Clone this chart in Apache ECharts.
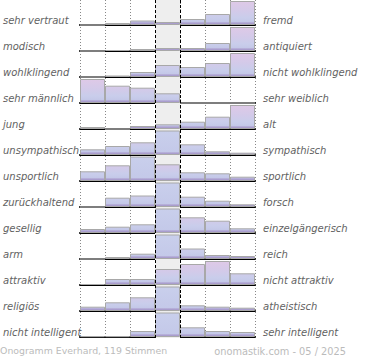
<!DOCTYPE html>
<html>
<head>
<meta charset="utf-8">
<script src="https://cdn.jsdelivr.net/npm/echarts@6/dist/echarts.min.js"></script>
<style>html,body{margin:0;padding:0;background:#fff}#c{width:370px;height:360px}</style>
</head>
<body>
<div id="c"></div>
<script>
const scaleSteps = ['1', '2', '3', '4', '5', '6', '7'];
const leftLabels = ['sehr vertraut', 'modisch', 'wohlklingend', 'sehr männlich', 'jung', 'unsympathisch', 'unsportlich', 'zurückhaltend', 'gesellig', 'arm', 'attraktiv', 'religiös', 'nicht intelligent'];
const rightLabels = ['fremd', 'antiquiert', 'nicht wohlklingend', 'sehr weiblich', 'alt', 'sympathisch', 'sportlich', 'forsch', 'einzelgängerisch', 'reich', 'nicht attraktiv', 'atheistisch', 'sehr intelligent'];
const footerLeft = 'Onogramm Everhard, 119 Stimmen';
const footerRight = 'onomastik.com - 05 / 2025';

const r01 = [0, 2, 4.5, 3, 6, 11, 24];
const r02 = [0, 1, 2, 3, 3, 8, 24];
const r03 = [0, 1.5, 5, 12, 10, 14, 24];
const r04 = [24, 17.3, 15.3, 9.7, 0, 0, 0];
const r05 = [2, 0, 3, 4.7, 7.3, 12.3, 24];
const r06 = [5.7, 9, 12.7, 30, 10.7, 3.7, 2.3];
const r07 = [9.7, 15.7, 28, 16.7, 8.7, 7.7, 4.3];
const r08 = [0, 9.3, 11.5, 32, 10.3, 6.3, 2.7];
const r09 = [4, 6.3, 8.7, 32, 15.7, 12.3, 4.7];
const r10 = [0, 2, 5.3, 30, 10.5, 4, 3];
const r11 = [1, 6, 6, 16, 21, 24, 11.7];
const r12 = [4.3, 8.7, 13.7, 34, 5.7, 4.3, 3.3];
const r13 = [0.8, 0.8, 6, 34, 9.7, 6, 5];
const rows = [r01, r02, r03, r04, r05, r06, r07, r08, r09, r10, r11, r12, r13];

const ROW_MAX = 24;
const ROW_STEP = 26;
const FONT = 'DejaVu Sans';

function grad(i, pink) {
  const y0 = ROW_STEP * i + 1, y1 = ROW_STEP * i + 25;
  const stops = pink ? [
    {offset: 0, color: '#dfc9e7'},
    {offset: 0.45, color: '#d2cae9'},
    {offset: 0.7, color: '#c9cdeb'},
    {offset: 0.86, color: '#c4c8e8'},
    {offset: 0.91, color: '#b0a5d2'},
    {offset: 1, color: '#9a8cc4'}
  ] : [
    {offset: 0, color: '#c9cfec'},
    {offset: 0.86, color: '#c4c9e9'},
    {offset: 0.91, color: '#b0a5d2'},
    {offset: 1, color: '#9a8cc4'}
  ];
  return {type: 'linear', x: 0, y: y0, x2: 0, y2: y1, global: true, colorStops: stops};
}

const grid = [], xAxis = [], yAxis = [], series = [];
rows.forEach((vals, i) => {
  grid.push({left: 80, width: 175, top: ROW_STEP * i + 1, height: 24});
  xAxis.push({gridIndex: i, type: 'category', data: scaleSteps,
    axisLine: {lineStyle: {color: '#000', width: 2}}, axisTick: {show: false},
    axisLabel: {show: false}, splitLine: {show: false}});
  yAxis.push({gridIndex: i, type: 'value', min: 0, max: ROW_MAX, show: false});
  series.push({type: 'bar', xAxisIndex: i, yAxisIndex: i, z: 2, silent: true,
    barCategoryGap: '0%',
    itemStyle: {borderColor: '#a8a8a8', borderWidth: 1},
    data: vals.map(v => ({value: v, itemStyle: {color: grad(i, v <= ROW_MAX)}}))});
});
// overlay grid (13)
grid.push({left: 80, width: 175, top: 0, height: 338});
xAxis.push({gridIndex: 13, type: 'value', min: 0, max: 7, interval: 1,
  axisLine: {show: false}, axisTick: {show: false}, axisLabel: {show: false},
  splitLine: {show: true, lineStyle: {color: '#888', type: [1, 2], width: 1}}});
yAxis.push({gridIndex: 13, type: 'value', min: 0, max: 1, show: false});
series.push({type: 'line', xAxisIndex: 13, yAxisIndex: 13, data: [], z: 1, silent: true,
  markArea: {silent: true, itemStyle: {color: '#eeeeee'}, data: [[{xAxis: 3}, {xAxis: 4}]]}});
series.push({type: 'line', xAxisIndex: 13, yAxisIndex: 13, data: [], z: 10, silent: true,
  markLine: {symbol: 'none', silent: true, label: {show: false}, animation: false,
    lineStyle: {color: '#000', type: [3, 2], width: 1}, data: [{xAxis: 3}, {xAxis: 4}]}});
// label grid (14)
grid.push({left: 80, width: 175, top: 7, height: 338});
xAxis.push({gridIndex: 14, type: 'value', show: false});
const lab = {color: '#626262', fontStyle: 'italic', fontSize: 10, fontFamily: FONT};
yAxis.push({gridIndex: 14, type: 'category', data: leftLabels, inverse: true, position: 'left',
  axisLine: {show: false}, axisTick: {show: false}, splitLine: {show: false},
  axisLabel: Object.assign({align: 'left', margin: 80}, lab)});
yAxis.push({gridIndex: 14, type: 'category', data: rightLabels, inverse: true, position: 'right',
  axisLine: {show: false}, axisTick: {show: false}, splitLine: {show: false},
  axisLabel: Object.assign({align: 'left', margin: 8}, lab)});
series.push({type: 'line', xAxisIndex: 14, yAxisIndex: 14, data: [], silent: true});

const chart = echarts.init(document.getElementById('c'), null, {renderer: 'svg'});
chart.setOption({
  animation: false,
  backgroundColor: '#fff',
  title: [
    {text: footerLeft, left: 0, top: 346, padding: 0,
      textStyle: {fontSize: 9.4, fontWeight: 'normal', color: '#bbb', fontFamily: FONT}},
    {text: footerRight, right: 24, top: 346, padding: 0,
      textStyle: {fontSize: 9.8, fontWeight: 'normal', color: '#bbb', fontFamily: FONT}}
  ],
  grid, xAxis, yAxis, series
});
</script>
</body>
</html>
